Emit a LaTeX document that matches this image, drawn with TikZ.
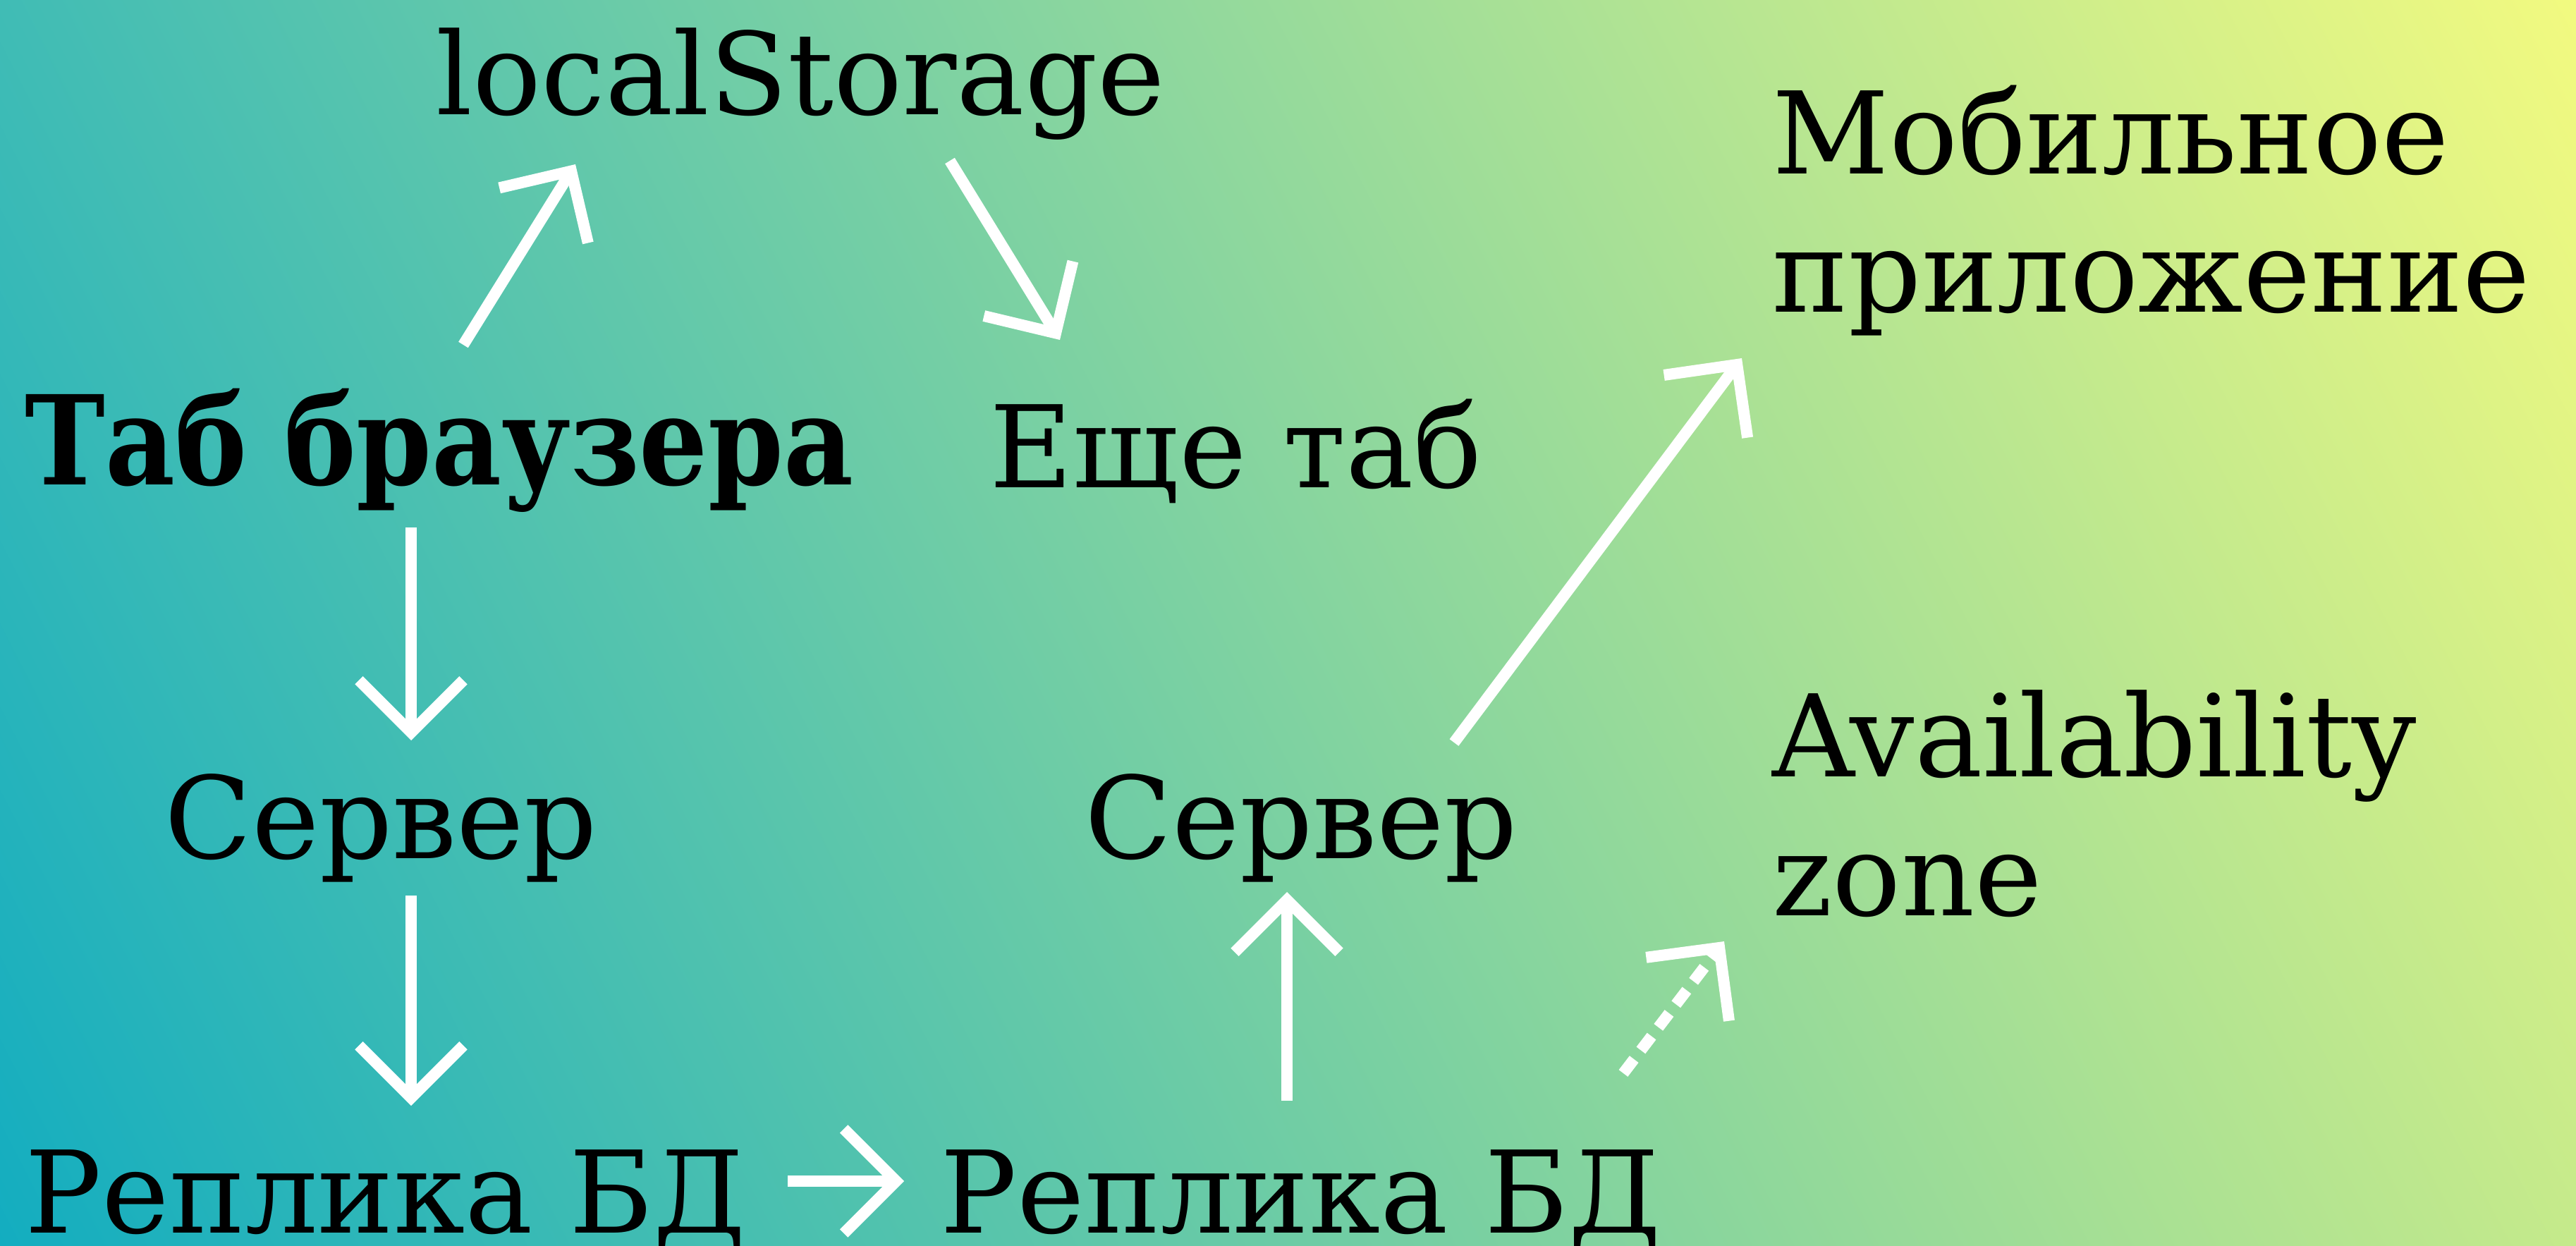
\documentclass[tikz,border=0pt]{standalone}
\usepackage{fontspec}
\setmainfont{DejaVu Serif}
\usetikzlibrary{arrows.meta, shadings}

\definecolor{bgtl}{HTML}{40BCB5}
\definecolor{bgtr}{HTML}{F2FA80}
\definecolor{bgbl}{HTML}{13ADC0}
\definecolor{bgbr}{HTML}{C5EA8B}

\begin{document}
\begin{tikzpicture}[> = {Straight Barb[length=7.4mm, width=14.8mm]},
	txt/.style = {anchor=base west, inner sep=0pt, align=left,
		font=\fontsize{46}{56}\selectfont},
	link/.style = {->, white, line width=1.6mm, line join=miter}]
	
	% Background
	
	\shade [upper left=bgtl, upper right=bgtr, lower left=bgbl, lower right=bgbr]
		(0, 0) rectangle (36.53, -17.67);
	\useasboundingbox (0, 0) rectangle (36.53, -17.67);
	
	% Labels
	
	\node [txt] (ls) at (6.18, -1.63) {localStorage};
	\node [txt] (mob) at (25.13, -4.43) {Мобильное\\приложение};
	\node [txt, font=\fontsize{50}{56}\selectfont\bfseries] (tab) at (0.35, -6.88)
		{\scalebox{0.87}[1]{Таб браузера}};
	\node [txt] (eshe) at (14.03, -6.92) {Еще таб};
	\node [txt] (srv1) at (2.33, -12.17) {Сервер};
	\node [txt] (srv2) at (15.38, -12.17) {Сервер};
	\node [txt] (az) at (25.13, -12.98) {Availability\\zone};
	\node [txt] (rep1) at (0.35, -17.48) {Реплика БД};
	\node [txt] (rep2) at (13.33, -17.48) {Реплика БД};
	
	% Arrows
	
	\begin{scope}[link]
	
		\draw ([shift={(6.22, 1.99)}]tab.base west) -- ([shift={(1.98, -0.70)}]ls.base west);
		\draw ([shift={(7.29, -0.65)}]ls.base west) -- ([shift={(1.00, 2.10)}]eshe.base west);
		\draw ([shift={(5.48, -0.60)}]tab.base west) -- ([shift={(3.50, 1.67)}]srv1.base west);
		\draw ([shift={(3.50, -0.53)}]srv1.base west) -- ([shift={(5.48, 1.80)}]rep1.base west);
		\draw ([shift={(10.82, 0.73)}]rep1.base west) -- ([shift={(-0.51, 0.73)}]rep2.base west);
		\draw ([shift={(4.92, 1.87)}]rep2.base west) -- ([shift={(2.87, -0.48)}]srv2.base west);
		\draw ([shift={(5.24, 1.64)}]srv2.base west) -- ([shift={(-0.43, -0.65)}]mob.base west);
		\draw [dash pattern=on 2.5mm off 1.6mm] ([shift={(9.69, 2.26)}]rep2.base west)
			-- ([shift={(-0.68, -0.37)}]az.base west);
		
	\end{scope}

\end{tikzpicture}
\end{document}
